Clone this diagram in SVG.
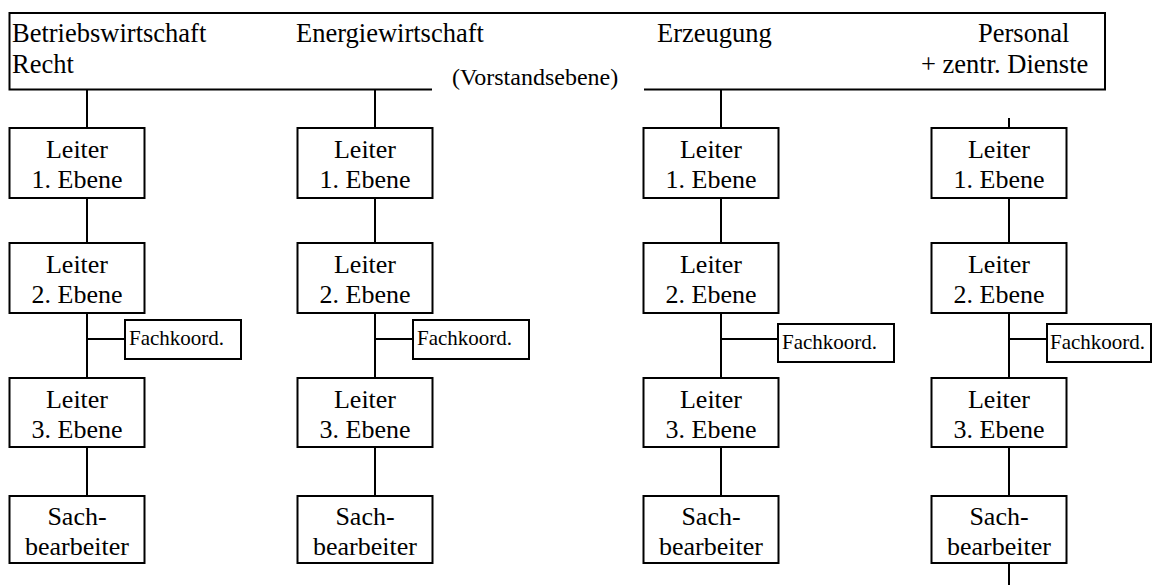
<svg xmlns="http://www.w3.org/2000/svg" width="1152" height="585" viewBox="0 0 1152 585">
  <style>
    .box { fill: #fff; stroke: #000; stroke-width: 2; }
    .ln { fill: none; stroke: #000; stroke-width: 2; }
    text { font-family: "Times New Roman", "Liberation Serif", serif; fill: #000; }
    .lbl { font-size: 26px; text-anchor: middle; }
    .head { font-size: 26.5px; }
    .sub { font-size: 24px; }
    .fk { font-size: 21px; }
  </style>

  <!-- board level frame, open at the bottom around the caption -->
  <g id="vorstand">
    <path class="ln" d="M432,89.5 H9.5 V13 H1105 V89.5 H644"/>
    <text class="head" x="12" y="41.5">Betriebswirtschaft</text>
    <text class="head" x="12" y="72.5">Recht</text>
    <text class="head" x="296" y="41.5">Energiewirtschaft</text>
    <text class="head" x="657" y="41.5">Erzeugung</text>
    <text class="head" x="978" y="41.5">Personal</text>
    <text class="head" x="921" y="72.5">+ zentr. Dienste</text>
    <text class="sub" x="452" y="85">(Vorstandsebene)</text>
  </g>

  <!-- vertical reporting lines and side links -->
  <g id="connectors">
    <line class="ln" x1="87" y1="89.5" x2="87" y2="496"/>
    <line class="ln" x1="375" y1="89.5" x2="375" y2="496"/>
    <line class="ln" x1="721" y1="89.5" x2="721" y2="496"/>
    <line class="ln" x1="1009" y1="118" x2="1009" y2="585"/>
    <line class="ln" x1="87" y1="339" x2="125" y2="339"/>
    <line class="ln" x1="375" y1="339" x2="413" y2="339"/>
    <line class="ln" x1="721" y1="339" x2="778" y2="339"/>
    <line class="ln" x1="1009" y1="339" x2="1047" y2="339"/>
  </g>

  <!-- column 1 -->
  <g id="c1-l1"><rect class="box" x="9.5" y="128" width="135" height="70"/><text class="lbl" x="77" y="158">Leiter</text><text class="lbl" x="77" y="188">1. Ebene</text></g>
  <g id="c1-l2"><rect class="box" x="9.5" y="243" width="135" height="70"/><text class="lbl" x="77" y="273">Leiter</text><text class="lbl" x="77" y="303">2. Ebene</text></g>
  <g id="c1-fk"><rect class="box" x="125" y="320" width="116" height="39"/><text class="fk" x="129" y="345">Fachkoord.</text></g>
  <g id="c1-l3"><rect class="box" x="9.5" y="378" width="135" height="69"/><text class="lbl" x="77" y="408">Leiter</text><text class="lbl" x="77" y="438">3. Ebene</text></g>
  <g id="c1-sb"><rect class="box" x="9.5" y="496" width="135" height="67"/><text class="lbl" x="77" y="525">Sach-</text><text class="lbl" x="77" y="555">bearbeiter</text></g>

  <!-- column 2 -->
  <g id="c2-l1"><rect class="box" x="297.5" y="128" width="135" height="70"/><text class="lbl" x="365" y="158">Leiter</text><text class="lbl" x="365" y="188">1. Ebene</text></g>
  <g id="c2-l2"><rect class="box" x="297.5" y="243" width="135" height="70"/><text class="lbl" x="365" y="273">Leiter</text><text class="lbl" x="365" y="303">2. Ebene</text></g>
  <g id="c2-fk"><rect class="box" x="413" y="320" width="116" height="39"/><text class="fk" x="417" y="345">Fachkoord.</text></g>
  <g id="c2-l3"><rect class="box" x="297.5" y="378" width="135" height="69"/><text class="lbl" x="365" y="408">Leiter</text><text class="lbl" x="365" y="438">3. Ebene</text></g>
  <g id="c2-sb"><rect class="box" x="297.5" y="496" width="135" height="67"/><text class="lbl" x="365" y="525">Sach-</text><text class="lbl" x="365" y="555">bearbeiter</text></g>

  <!-- column 3 -->
  <g id="c3-l1"><rect class="box" x="643.5" y="128" width="135" height="70"/><text class="lbl" x="711" y="158">Leiter</text><text class="lbl" x="711" y="188">1. Ebene</text></g>
  <g id="c3-l2"><rect class="box" x="643.5" y="243" width="135" height="70"/><text class="lbl" x="711" y="273">Leiter</text><text class="lbl" x="711" y="303">2. Ebene</text></g>
  <g id="c3-fk"><rect class="box" x="778" y="324" width="116" height="38"/><text class="fk" x="782" y="349">Fachkoord.</text></g>
  <g id="c3-l3"><rect class="box" x="643.5" y="378" width="135" height="69"/><text class="lbl" x="711" y="408">Leiter</text><text class="lbl" x="711" y="438">3. Ebene</text></g>
  <g id="c3-sb"><rect class="box" x="643.5" y="496" width="135" height="67"/><text class="lbl" x="711" y="525">Sach-</text><text class="lbl" x="711" y="555">bearbeiter</text></g>

  <!-- column 4 -->
  <g id="c4-l1"><rect class="box" x="931.5" y="128" width="135" height="70"/><text class="lbl" x="999" y="158">Leiter</text><text class="lbl" x="999" y="188">1. Ebene</text></g>
  <g id="c4-l2"><rect class="box" x="931.5" y="243" width="135" height="70"/><text class="lbl" x="999" y="273">Leiter</text><text class="lbl" x="999" y="303">2. Ebene</text></g>
  <g id="c4-fk"><rect class="box" x="1047" y="324" width="104" height="38"/><text class="fk" x="1050" y="349">Fachkoord.</text></g>
  <g id="c4-l3"><rect class="box" x="931.5" y="378" width="135" height="69"/><text class="lbl" x="999" y="408">Leiter</text><text class="lbl" x="999" y="438">3. Ebene</text></g>
  <g id="c4-sb"><rect class="box" x="931.5" y="496" width="135" height="67"/><text class="lbl" x="999" y="525">Sach-</text><text class="lbl" x="999" y="555">bearbeiter</text></g>
</svg>
